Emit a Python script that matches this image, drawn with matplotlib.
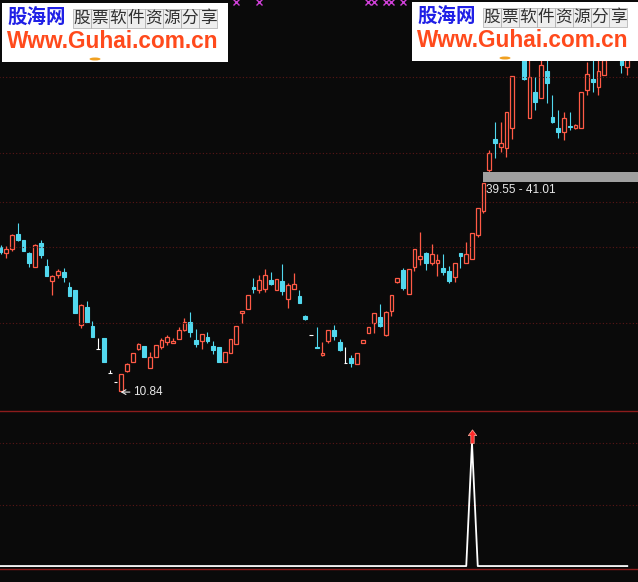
import numpy as np
import matplotlib.pyplot as plt
from matplotlib.patches import Rectangle, Ellipse
from matplotlib.path import Path

W, H = 638, 582

# 日K线数据 (开, 收, 高, 低)
opens = [30.64, 29.82, 30.37, 32.43, 31.60, 29.82, 27.89, 31.19, 28.03, 25.97,
         26.79, 27.20, 25.14, 24.73, 19.92, 22.39, 19.78, 16.62, 18.13, 13.32,
         12.08, 10.84, 13.59, 14.83, 16.62, 17.03, 14.00, 15.52, 16.89, 17.58,
         17.44, 17.99, 19.23, 20.33, 17.85, 17.72, 18.27, 17.03, 16.89, 14.83,
         16.07, 17.30, 21.57, 22.12, 25.14, 24.73, 24.87, 26.10, 24.73, 25.97,
         23.49, 24.87, 23.90, 21.15, 18.54, 16.89, 15.79, 17.72, 19.23, 17.58,
         14.69, 15.38, 14.55, 17.44, 18.82, 20.19, 21.02, 18.54, 21.84, 25.83,
         27.48, 24.18, 27.89, 28.99, 29.82, 28.44, 28.44, 27.75, 27.34, 26.52,
         29.82, 28.44, 28.99, 32.29, 35.59, 41.23, 45.49, 44.39, 44.25, 47.00,
         56.63, 57.73, 48.38, 51.95, 51.13, 54.84, 48.52, 47.00, 46.45, 47.28,
         47.00, 47.00, 52.23, 53.74, 52.64, 54.29, 56.63, 58.42, 57.04, 55.39]
closes = [29.95, 30.37, 32.29, 31.60, 30.09, 28.44, 30.92, 29.54, 26.65, 26.65,
          27.34, 26.52, 23.90, 21.57, 22.67, 20.33, 18.27, 16.62, 14.83, 13.32,
          12.08, 13.18, 14.55, 16.07, 17.30, 15.52, 15.52, 17.17, 17.85, 18.27,
          17.72, 19.23, 20.33, 18.95, 17.30, 18.68, 17.72, 16.48, 14.83, 16.20,
          17.99, 19.78, 21.84, 24.04, 24.87, 26.10, 26.79, 25.55, 26.24, 24.59,
          25.42, 25.55, 22.94, 20.74, 18.54, 16.75, 16.07, 19.23, 18.40, 16.48,
          14.69, 14.69, 16.07, 17.85, 19.64, 21.57, 19.78, 21.70, 24.04, 26.38,
          25.00, 27.62, 30.37, 29.40, 28.44, 29.68, 28.85, 27.20, 25.97, 28.44,
          29.40, 29.68, 32.57, 36.00, 39.44, 43.57, 44.94, 44.94, 49.20, 54.15,
          58.42, 53.74, 54.02, 50.58, 55.67, 53.19, 47.83, 46.45, 48.38, 47.14,
          47.42, 51.95, 54.43, 53.33, 54.84, 56.35, 58.42, 57.04, 55.67, 57.04]
highs = [30.92, 30.78, 32.43, 33.94, 31.65, 29.95, 31.05, 31.60, 28.99, 26.79,
         27.62, 27.75, 25.83, 24.75, 22.80, 23.22, 20.47, 18.13, 18.15, 13.73,
         12.08, 13.20, 14.69, 16.10, 17.44, 17.05, 16.20, 17.20, 18.13, 18.54,
         18.13, 19.64, 20.88, 21.70, 19.37, 18.70, 18.95, 17.72, 16.90, 16.22,
         18.00, 19.80, 21.86, 24.06, 26.38, 26.79, 27.62, 27.20, 26.26, 28.30,
         25.69, 27.07, 24.73, 21.29, 18.54, 19.64, 17.58, 19.25, 19.92, 17.99,
         16.89, 15.79, 16.10, 17.87, 19.66, 21.60, 22.80, 21.84, 24.06, 26.40,
         27.75, 27.64, 30.40, 32.70, 29.95, 31.05, 29.68, 29.68, 28.03, 28.46,
         29.84, 31.33, 32.59, 36.02, 39.46, 43.98, 47.83, 47.83, 49.22, 54.17,
         59.10, 59.10, 56.35, 54.02, 56.35, 57.04, 51.54, 49.48, 49.20, 49.20,
         47.55, 51.97, 56.08, 56.35, 57.04, 57.73, 59.10, 59.10, 57.73, 57.73]
lows = [29.68, 29.13, 30.09, 31.47, 30.05, 27.89, 27.85, 29.13, 26.60, 24.04,
        26.38, 25.83, 23.85, 21.55, 19.50, 20.30, 18.25, 16.60, 14.80, 13.30,
        12.08, 10.84, 13.45, 14.80, 16.48, 15.50, 13.98, 15.50, 16.62, 17.17,
        17.40, 17.95, 19.09, 18.27, 16.89, 16.62, 17.44, 15.93, 14.80, 14.80,
        16.05, 17.28, 20.19, 22.10, 24.32, 24.32, 24.45, 25.42, 24.70, 24.04,
        22.25, 24.85, 22.90, 20.60, 18.54, 16.75, 15.65, 17.44, 17.85, 16.34,
        14.69, 14.14, 14.53, 17.42, 18.80, 18.82, 19.64, 18.40, 21.15, 25.69,
        24.73, 24.16, 27.34, 28.17, 27.48, 28.17, 26.65, 26.79, 25.69, 25.83,
        27.75, 28.42, 28.97, 32.02, 35.32, 40.95, 42.90, 43.70, 43.02, 45.49,
        56.35, 53.60, 48.35, 49.48, 51.10, 50.44, 47.69, 45.63, 45.35, 46.73,
        46.87, 46.98, 51.54, 51.95, 51.54, 54.27, 56.35, 56.63, 54.57, 54.29]

# 副图信号
signal = [0] * 82 + [1] + [0] * 27

low_bar, low_price = 21, 10.84
band_start, band_low, band_high = 84, 39.55, 41.01
main_grid = [20.19, 30.64, 36.83, 43.57, 54.02]
sub_grid = [0.5, 1.0]
top_marks = [41, 45, 64, 65, 67, 68, 70]

BG = '#0a0a0a'
UP = '#ff5a46'
DOWN = '#52d8ee'
GRID = '#5c1616'
SEP = '#8c1c1c'
NUMFONT = ['Liberation Sans', 'DejaVu Sans']

fig = plt.figure(figsize=(W / 100, H / 100), dpi=100, facecolor=BG)

# 主图
ax = fig.add_axes([0, 171 / H, 1, 411 / H])
ax.set_facecolor(BG)
ax.set_xlim(-0.087, 110.87)
ax.set_ylim(8.09, 64.60)
ax.axis('off')
ax.hlines(main_grid, -1, 112, colors=GRID, linestyles=(0, (1, 2)), lw=0.8)

bw = 0.62
for i in range(len(opens)):
    o, c, h, l = opens[i], closes[i], highs[i], lows[i]
    if c > o:
        ax.vlines(i, c, h, color=UP, lw=0.9)
        ax.vlines(i, l, o, color=UP, lw=0.9)
        ax.add_patch(Rectangle((i - bw / 2, o), bw, c - o, facecolor=BG,
                               edgecolor=UP, lw=0.9))
    elif c < o:
        ax.vlines(i, l, h, color=DOWN, lw=0.8)
        ax.add_patch(Rectangle((i - bw / 2, c), bw, o - c, facecolor=DOWN,
                               edgecolor=DOWN, lw=0.8))
    else:
        ax.vlines(i, l, h, color='white', lw=0.8)
        ax.hlines(o, i - bw / 2, i + bw / 2, color='white', lw=0.8)

# 筹码区间
ax.add_patch(Rectangle((band_start - 0.1, band_low), 40, band_high - band_low,
                       facecolor='#a0a0a0', edgecolor='none', zorder=5))
ax.text(band_start + 0.45, 38.45, '%.2f - %.2f' % (band_low, band_high),
        color='#e8e8e8', fontsize=8.5, family=NUMFONT, ha='left', va='center')

# 最低价标注
ax.annotate('%.2f' % low_price, xy=(low_bar - 0.1, low_price - 0.15),
            xytext=(12, 0), textcoords='offset pixels',
            color='#e8e8e8', fontsize=8.5, family=NUMFONT, ha='left', va='center',
            arrowprops=dict(arrowstyle='->,head_length=0.35,head_width=0.2',
                            color='#e8e8e8', lw=0.8, shrinkA=0, shrinkB=0))

ax.plot(top_marks, [64.3] * len(top_marks), 'x', color='#d040d8', ms=4, mew=1)

# 副图
ax2 = fig.add_axes([0, 13 / H, 1, 158 / H])
ax2.set_facecolor(BG)
ax2.set_xlim(-0.087, 110.87)
ax2.set_ylim(-0.024, 1.26)
ax2.set_xticks([])
ax2.set_yticks([])
for s in ['left', 'right']:
    ax2.spines[s].set_visible(False)
for s in ['top', 'bottom']:
    ax2.spines[s].set_color(SEP)
    ax2.spines[s].set_linewidth(1.0)
ax2.hlines(sub_grid, -1, 112, colors=GRID, linestyles=(0, (1, 2)), lw=0.8)
ax2.plot(range(len(signal)), signal, color='white', lw=1.3)

arrow = Path([(0, 1), (-0.55, 0.25), (-0.22, 0.25), (-0.22, -0.8),
              (0.22, -0.8), (0.22, 0.25), (0.55, 0.25), (0, 1)],
             [Path.MOVETO] + [Path.LINETO] * 6 + [Path.CLOSEPOLY])
sig_bar = signal.index(1)
ax2.plot([sig_bar], [1.05], marker=arrow, ms=11, color='#ff2a2a',
         mec='#ffb0a0', mew=0.5)

# 水印
ov = fig.add_axes([0, 0, 1, 1], zorder=10)
ov.set_xlim(0, W)
ov.set_ylim(H, 0)
ov.axis('off')
ov.patch.set_alpha(0)


def watermark(x0, y0):
    ov.add_patch(Rectangle((x0, y0), 226, 59, facecolor='white', edgecolor='none'))
    ov.text(x0 + 5, y0 + 15, '股海网', color='#1f1fe6', fontsize=14,
            weight='bold', family=['Noto Sans CJK SC'], ha='left', va='center')
    for k, ch in enumerate('股票软件资源分享'):
        cx = x0 + 71 + 18 * k
        ov.add_patch(Rectangle((cx, y0 + 6), 18, 19, facecolor='#eeeeee',
                               edgecolor='#aaaaaa', lw=0.5))
        ov.text(cx + 9, y0 + 15.5, ch, color='#303030', fontsize=12,
                family=['Noto Sans CJK SC'], ha='center', va='center')
    ov.text(x0 + 5, y0 + 38.5, 'Www.Guhai.com.cn', color='#ff4a1c',
            fontsize=16.3, weight='bold', family=NUMFONT,
            ha='left', va='center')
    ov.add_patch(Ellipse((x0 + 93, y0 + 56), 11, 3, facecolor='#f0a020',
                         edgecolor='none'))


watermark(2, 3)
watermark(412, 2)

fig.savefig('out.png', dpi=100, facecolor=BG)
